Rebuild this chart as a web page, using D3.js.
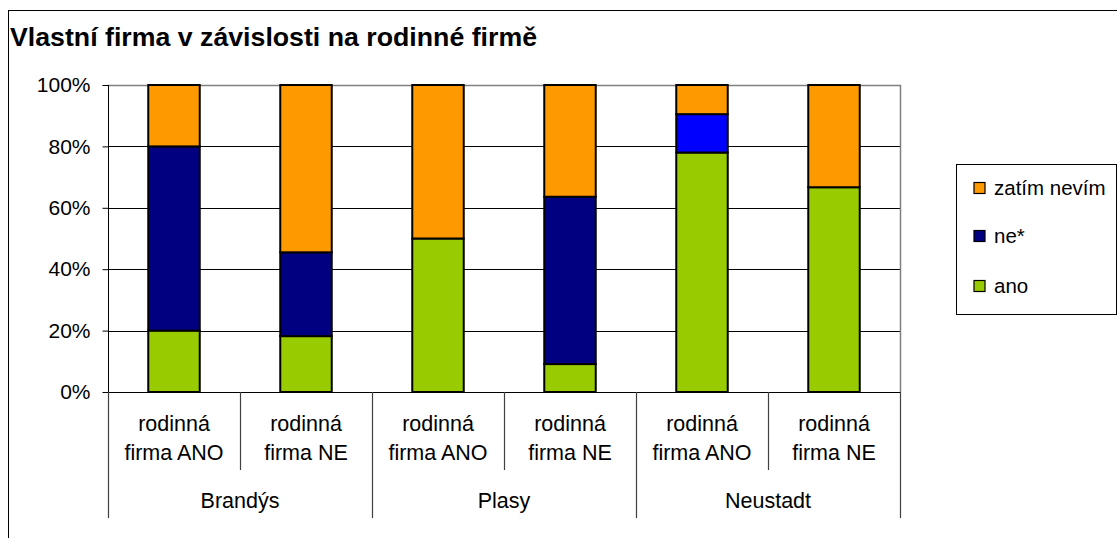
<!DOCTYPE html>
<html>
<head>
<meta charset="utf-8">
<script src="https://cdn.jsdelivr.net/npm/d3@7"></script>
<style>
  html, body { margin: 0; padding: 0; background: #fff; }
  svg { display: block; font-family: "Liberation Sans", Arial, sans-serif; }
</style>
</head>
<body>
<svg id="chart" width="1117" height="538"></svg>
<script>
// ---- data ----
const groups = ["Brandýs", "Plasy", "Neustadt"];
const subLabels = ["rodinná firma ANO", "rodinná firma NE"];
const categories = ["Brandýs|ANO", "Brandýs|NE", "Plasy|ANO", "Plasy|NE", "Neustadt|ANO", "Neustadt|NE"];
const seriesNames = ["ano", "ne*", "zatím nevím"];
const anoValues   = [20.0, 18.2, 50.0,  9.1, 78.0, 66.7];
const neValues    = [60.0, 27.3,  0.0, 54.5, 12.5,  0.0];
const nevimValues = [20.0, 54.5, 50.0, 36.4,  9.5, 33.3];
const yTicks = [0, 20, 40, 60, 80, 100];
const seriesColors = ["#99CC00", "#000080", "#FF9900"];
const pointOverrides = { "ne*|Neustadt|ANO": "#0000FF" };

// ---- layout ----
const svg = d3.select("#chart");
const plot = { left: 108, top: 85, right: 900, bottom: 392 };

svg.append("rect").attr("x", 8.5).attr("y", 10.5).attr("width", 1200).attr("height", 600)
  .attr("fill", "#fff").attr("stroke", "#000").attr("stroke-width", 1);

svg.append("text").attr("x", 10).attr("y", 46)
  .attr("font-size", 25).attr("font-weight", "bold").attr("fill", "#000")
  .attr("textLength", 527).attr("lengthAdjust", "spacingAndGlyphs")
  .text("Vlastní firma v závislosti na rodinné firmě");

const x = d3.scaleBand().domain(categories).range([plot.left, plot.right]).paddingInner(0).paddingOuter(0);
const y = d3.scaleLinear().domain([0, 100]).range([plot.bottom, plot.top]);

// gridlines
svg.append("g").selectAll("line").data(yTicks.filter(t => t > 0 && t < 100)).join("line")
  .attr("x1", plot.left).attr("x2", plot.right)
  .attr("y1", d => Math.round(y(d)) + 0.5).attr("y2", d => Math.round(y(d)) + 0.5)
  .attr("stroke", "#000").attr("stroke-width", 1);
// plot border (top, right) gray
svg.append("path")
  .attr("d", `M${plot.left},${plot.top + 0.5}H${plot.right + 0.5}V${plot.bottom}`)
  .attr("fill", "none").attr("stroke", "#808080").attr("stroke-width", 1.5);

// y axis
const yAxis = d3.axisLeft(y).tickValues(yTicks).tickFormat(d => d + "%").tickSize(6).tickPadding(12);
const gy = svg.append("g").attr("transform", `translate(${plot.left + 0.5},0)`).call(yAxis);
gy.selectAll(".tick line").attr("stroke", "#000");
gy.selectAll(".tick text").attr("font-size", 21).attr("fill", "#000")
  .attr("font-family", "Liberation Sans, Arial, sans-serif");
gy.select(".domain").remove();
svg.append("line").attr("x1", plot.left + 0.5).attr("x2", plot.left + 0.5)
  .attr("y1", plot.top).attr("y2", plot.bottom + 6).attr("stroke", "#000");

// stacked bars
const table = categories.map((c, i) => ({ cat: c, "ano": anoValues[i], "ne*": neValues[i], "zatím nevím": nevimValues[i] }));
const stack = d3.stack().keys(seriesNames)(table);
const barW = x.bandwidth() * 0.39;
const layers = svg.append("g").selectAll("g").data(stack).join("g");
layers.each(function (layer, li) {
  d3.select(this).selectAll("rect").data(layer.filter(d => d[1] - d[0] > 0)).join("rect")
    .attr("x", d => x(d.data.cat) + (x.bandwidth() - barW) / 2)
    .attr("width", barW)
    .attr("y", d => y(d[1]))
    .attr("height", d => y(d[0]) - y(d[1]))
    .attr("fill", d => pointOverrides[layer.key + "|" + d.data.cat] || seriesColors[li])
    .attr("stroke", "#000").attr("stroke-width", 2);
});

// x axis
svg.append("line").attr("x1", plot.left).attr("x2", plot.right + 1)
  .attr("y1", plot.bottom + 0.5).attr("y2", plot.bottom + 0.5).attr("stroke", "#000");
// short separators
categories.forEach((c, i) => {
  if (i % 2 === 1) {
    const sx = Math.round(x(c)) + 0.5;
    svg.append("line").attr("x1", sx).attr("x2", sx).attr("y1", plot.bottom).attr("y2", 470)
      .attr("stroke", "#404040").attr("stroke-width", 1.2);
  }
});
// group separators
const gx = d3.scaleBand().domain(groups).range([plot.left, plot.right]);
[...groups.map(g => gx(g)), plot.right].forEach(px => {
  svg.append("line").attr("x1", Math.round(px) + 0.5).attr("x2", Math.round(px) + 0.5)
    .attr("y1", plot.bottom).attr("y2", 518).attr("stroke", "#404040").attr("stroke-width", 1.2);
});
// category labels
categories.forEach((c, i) => {
  const cx = x(c) + x.bandwidth() / 2;
  const words = subLabels[i % 2].split(" ");
  const t = svg.append("text").attr("text-anchor", "middle").attr("font-size", 21.5).attr("fill", "#000");
  t.append("tspan").attr("x", cx).attr("y", 431).text(words[0]);
  t.append("tspan").attr("x", cx).attr("y", 460).text(words.slice(1).join(" "));
});
groups.forEach(g => {
  svg.append("text").attr("x", gx(g) + gx.bandwidth() / 2).attr("y", 508)
    .attr("text-anchor", "middle").attr("font-size", 21.5).attr("fill", "#000").text(g);
});

// legend
svg.append("rect").attr("x", 956.5).attr("y", 164.5).attr("width", 160).attr("height", 150)
  .attr("fill", "#fff").attr("stroke", "#000").attr("stroke-width", 1);
const legendOrder = [2, 1, 0];
const legendY = [188, 236, 286];
legendOrder.forEach((si, k) => {
  svg.append("rect").attr("x", 974).attr("y", legendY[k] - 5.5).attr("width", 11).attr("height", 11)
    .attr("fill", seriesColors[si]).attr("stroke", "#000").attr("stroke-width", 1.2);
  svg.append("text").attr("x", 994).attr("y", legendY[k] + 7).attr("font-size", 20.5).attr("fill", "#000")
    .text(seriesNames[si]);
});
</script>
</body>
</html>
